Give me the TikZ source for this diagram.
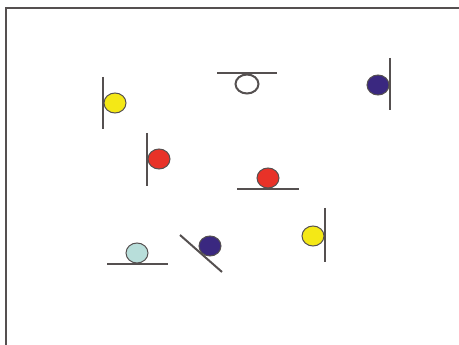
\documentclass[tikz,border=0pt]{standalone}
\usetikzlibrary{shapes.geometric}
\definecolor{ballyellow}{RGB}{244,232,22}
\definecolor{ballred}{RGB}{232,50,40}
\definecolor{ballnavy}{RGB}{58,40,128}
\definecolor{ballcyan}{RGB}{184,222,218}
\definecolor{edgegrey}{RGB}{85,80,80}
\begin{document}
\begin{tikzpicture}[
  x=1pt,y=-1pt,
  frame/.style={edgegrey,line width=2.4pt},
  bar/.style={edgegrey,line width=2pt},
  ball/.style={ellipse,draw=edgegrey,line width=1pt,minimum width=22pt,minimum height=20pt,inner sep=0pt},
  hollow/.style={ball,fill=white,line width=2pt,minimum width=23pt,minimum height=19pt}
]
\useasboundingbox (0,0) rectangle (459,345);
\draw[frame] (6,346) -- (6,8) -- (460,8);
% top row
\node[ball,fill=ballyellow] (yA) at (115,103) {};
\draw[bar] (103,77) -- (103,129);
\node[hollow] (wA) at (247,84) {};
\draw[bar] (217,73) -- (277,73);
\node[ball,fill=ballnavy] (nA) at (378,85) {};
\draw[bar] (390,58) -- (390,110);
% middle row
\node[ball,fill=ballred] (rA) at (159,159) {};
\draw[bar] (147,133) -- (147,186);
\node[ball,fill=ballred] (rB) at (268,178) {};
\draw[bar] (237,189) -- (299,189);
% bottom row
\node[ball,fill=ballcyan] (cA) at (137,253) {};
\draw[bar] (107,264) -- (168,264);
\node[ball,fill=ballnavy] (nB) at (210,246) {};
\draw[bar] (180,235) -- (222,272);
\node[ball,fill=ballyellow] (yB) at (313,236) {};
\draw[bar] (325,208) -- (325,262);
\end{tikzpicture}
\end{document}
